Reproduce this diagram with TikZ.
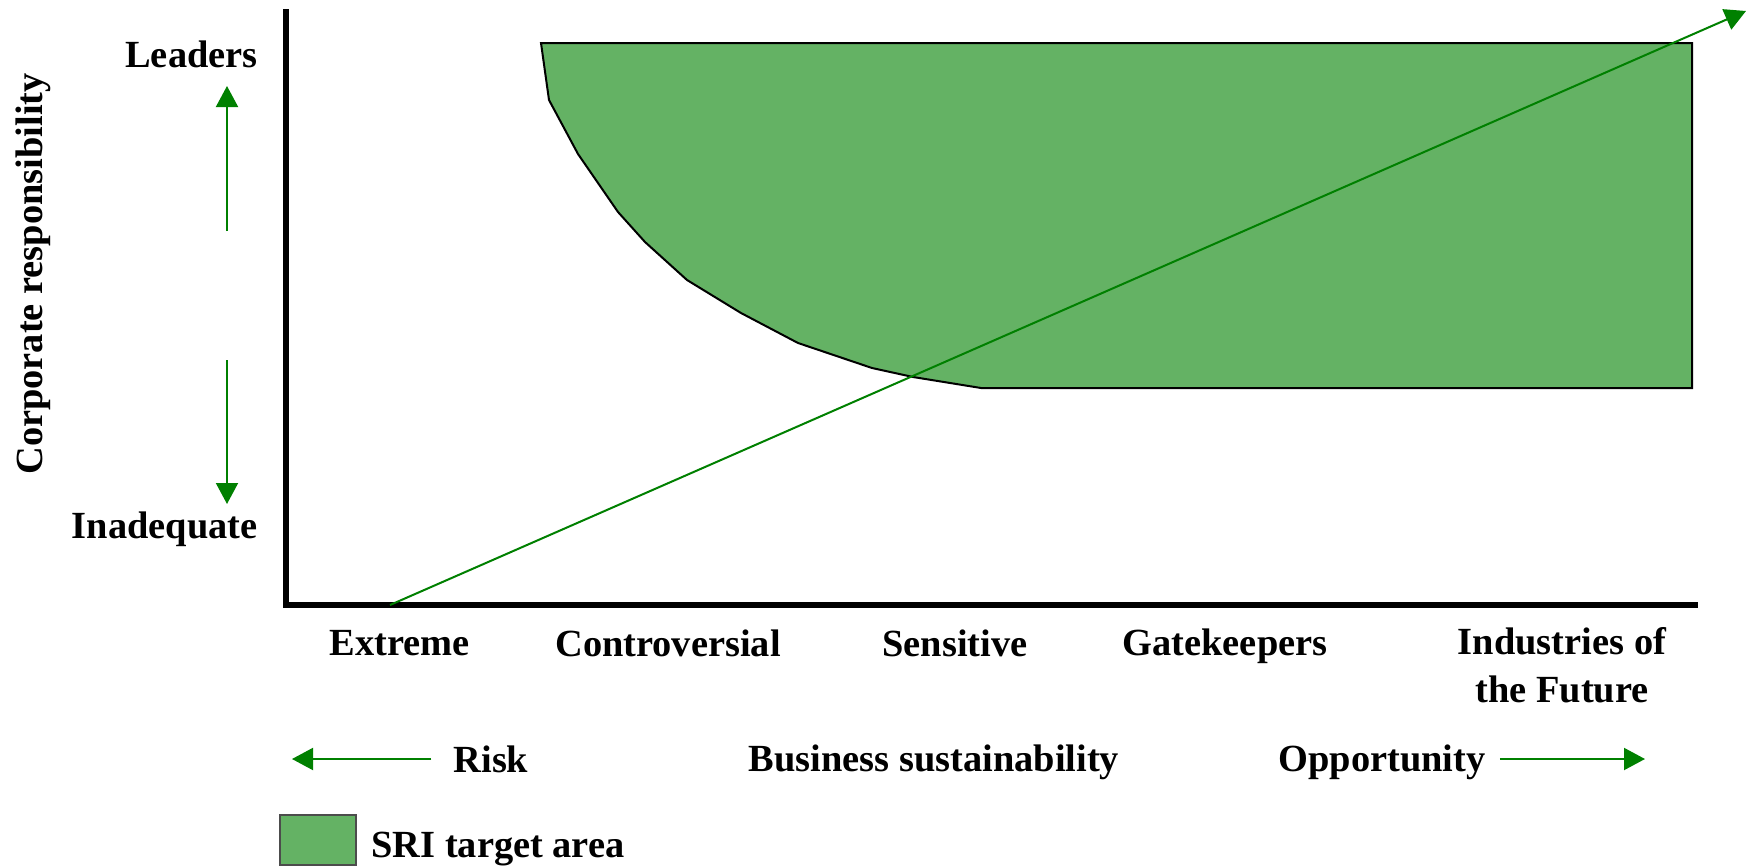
\documentclass[tikz,border=0pt]{standalone}
\usepackage{fontspec}
\setmainfont{Liberation Serif}
\usetikzlibrary{arrows.meta}
\definecolor{dg}{RGB}{0,128,0}
\definecolor{sri}{RGB}{100,178,100}
\begin{document}
\begin{tikzpicture}[x=0.5pt,y=-0.5pt,
  lbl/.style={font=\fontsize{19.2}{24}\selectfont\bfseries, inner sep=0pt, align=center},
  garrow/.style={draw=dg, line width=1pt, -{Triangle[length=10.5pt,width=11pt]}},
  axisline/.style={line width=3pt, line join=miter},
  sriarea/.style={draw=black, line width=1pt, fill=sri}]
\useasboundingbox (0,0) rectangle (1747,867);

% target area
\draw[sriarea] (541,43) -- (1692,43) -- (1692,388) -- (981,388)
  -- (913,377) -- (872,368) -- (798,343) -- (741,313) -- (687,280)
  -- (645,242) -- (618,212) -- (578,154) -- (549,100) -- cycle;

% axes
\draw[axisline] (286,9) -- (286,605) -- (1698,605);

% diagonal trend line
\coordinate (d0) at (390,605);
\coordinate (d1) at (1746,11);
\draw[garrow] (d0) -- (d1);

% vertical axis labels
\node[lbl, anchor=east] (leaders) at (258,54) {Leaders};
\node[lbl, anchor=east] (inadequate) at (258,529) {Inadequate};
\node[lbl, rotate=90] (corp) at (33,274) {Corporate responsibility};
\coordinate (ua0) at (227,231);
\coordinate (ua1) at (227,86);
\coordinate (da0) at (227,360);
\coordinate (da1) at (227,504);
\draw[garrow] (ua0) -- (ua1);
\draw[garrow] (da0) -- (da1);

% horizontal categories
\node[lbl] (extreme) at (400,643) {Extreme};
\node[lbl] (controv) at (668,643) {Controversial};
\node[lbl] (sensitive) at (955,643) {Sensitive};
\node[lbl] (gate) at (1225,646) {Gatekeepers};
\node[lbl, anchor=north] (future) at (1562,627) {Industries of\\the Future};

% bottom axis descriptors
\node[lbl] (risk) at (491,759) {Risk};
\node[lbl] (bizsus) at (934,762) {Business sustainability};
\node[lbl] (opp) at (1382,762) {Opportunity};
\coordinate (ra1) at (292,759);
\coordinate (oa1) at (1645,759);
\draw[garrow] ([xshift=-11pt]risk.west) -- (ra1);
\draw[garrow] (opp.east |- oa1) ++(7pt,0) -- (oa1);

% legend
\node[draw=black!70, line width=0.8pt, fill=sri, minimum width=38pt, minimum height=25pt, inner sep=0pt] (legbox) at (318,840) {};
\node[lbl, anchor=west] (legtxt) at (371,849) {SRI target area};
\end{tikzpicture}
\end{document}
